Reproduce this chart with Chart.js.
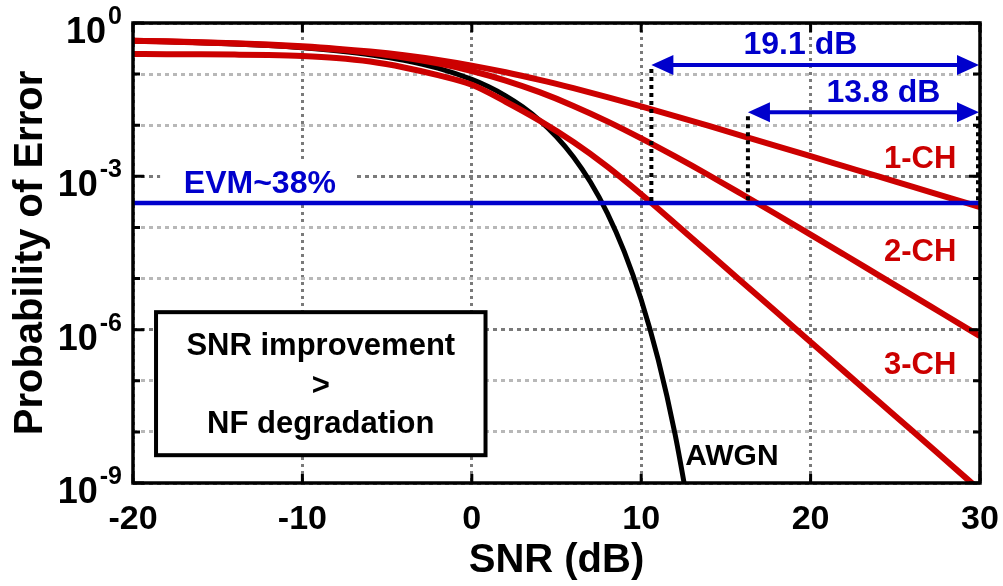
<!DOCTYPE html>
<html>
<head>
<meta charset="utf-8">
<script src="https://cdn.jsdelivr.net/npm/chart.js@4.4.1/dist/chart.umd.min.js"></script>
<style>
  html, body { margin: 0; padding: 0; background: #fff; }
  canvas { display: block; }
</style>
</head>
<body>
<canvas id="chart" width="1003" height="586"></canvas>
<script>
// SNR grid (dB) for the fading curves
const snr = [-20, -18, -16, -14, -12, -10, -8, -6, -4, -2, 0, 2, 4, 6, 8, 10,
             12, 14, 16, 18, 20, 22, 24, 26, 28, 30];

// probability of error
const ch1 = [0.450, 0.4376, 0.4217, 0.4022, 0.3782, 0.3492, 0.3151, 0.2760, 0.2332,
             0.1890, 0.1464, 0.1085, 0.0771, 0.0530, 0.0355, 0.0233, 0.0151, 0.00967,
             0.00615, 0.00391, 0.00248, 0.00157, 0.000994, 0.000627, 0.000396, 0.000250];
const ch2 = [0.447, 0.4337, 0.4168, 0.3959, 0.3702, 0.3390, 0.3017, 0.2588, 0.2113,
             0.1621, 0.1151, 0.0748, 0.0443, 0.0239, 0.0119, 0.00553, 0.00245, 0.00105,
             4.36e-4, 1.79e-4, 7.26e-5, 2.92e-5, 1.17e-5, 4.69e-6, 1.87e-6, 7.48e-7];
const ch3 = [0.247, 0.246, 0.244, 0.241, 0.236, 0.226, 0.207, 0.176, 0.135,
             0.0955, 0.0617, 0.0288, 0.0123, 0.00468, 0.00155, 4.47e-4, 1.20e-4, 3.16e-5,
             8.3e-6, 2.19e-6, 5.75e-7, 1.51e-7, 3.98e-8, 1.05e-8, 2.75e-9, 7.2e-10];

const awgnSnr = [-20, -18, -16, -14, -12, -10, -8, -6, -4, -2, 0, 1, 2, 3, 4, 5, 6,
                 7, 8, 9, 10, 11, 12, 13];
const awgn = [0.4438, 0.4294, 0.4113, 0.3889, 0.3612, 0.3274, 0.2867, 0.2392, 0.1861,
              0.1306, 0.0786, 0.0563, 0.0375, 0.0229, 0.0125, 0.00595, 0.00239,
              7.73e-4, 1.91e-4, 3.36e-5, 3.87e-6, 2.61e-7, 9.0e-9, 1.33e-10];

const evmLevel = 3e-4;          // EVM~38% limit
const xTicks = [-20, -10, 0, 10, 20, 30];
const yDecades = [0, -1, -2, -3, -4, -5, -6, -7, -8, -9];
const yLabelExp = [0, -3, -6, -9];

// SNR gaps between the curves at the EVM limit
const gapStart = [10.6, 16.3];
const gapEnd = [30, 30];
const gapLabels = ["19.1 dB", "13.8 dB"];

const FONT = "'Liberation Sans', Arial, Helvetica, sans-serif";
const RED = "#cc0000";
const BLUE = "#0000cc";

function pts(xs, ys) {
    return xs.map((x, i) => ({ x: x, y: ys[i] }));
}

// arrow with heads on both ends
function arrow(ctx, x1, x2, y) {
    const hl = 22, hw = 10;
    ctx.beginPath();
    ctx.moveTo(x1 + hl - 2, y);
    ctx.lineTo(x2 - hl + 2, y);
    ctx.stroke();
    ctx.beginPath();
    ctx.moveTo(x1, y);
    ctx.lineTo(x1 + hl, y - hw);
    ctx.lineTo(x1 + hl, y + hw);
    ctx.closePath();
    ctx.fill();
    ctx.beginPath();
    ctx.moveTo(x2, y);
    ctx.lineTo(x2 - hl, y - hw);
    ctx.lineTo(x2 - hl, y + hw);
    ctx.closePath();
    ctx.fill();
}

const decor = {
    id: "decor",
    beforeDatasetsDraw(chart) {
        const { ctx, scales: { x, y } } = chart;
        ctx.save();

        // white patch behind the EVM label
        ctx.fillStyle = "#fff";
        ctx.fillRect(x.getPixelForValue(-18.4), y.getPixelForValue(2.1e-3),
                     x.getPixelForValue(-7.0) - x.getPixelForValue(-18.4), 44);

        // text box
        const bx1 = x.getPixelForValue(-18.64), bx2 = x.getPixelForValue(0.81);
        const by1 = y.getPixelForValue(2.2e-6), by2 = y.getPixelForValue(3.5e-9);
        ctx.fillRect(bx1, by1, bx2 - bx1, by2 - by1);
        ctx.strokeStyle = "#000";
        ctx.lineWidth = 4;
        ctx.strokeRect(bx1, by1, bx2 - bx1, by2 - by1);

        ctx.fillStyle = "#000";
        ctx.font = "bold 31px " + FONT;
        ctx.textAlign = "center";
        ctx.textBaseline = "middle";
        const cx = (bx1 + bx2) / 2, cy = (by1 + by2) / 2;
        ctx.fillText("SNR improvement", cx, cy - 37);
        ctx.fillText(">", cx, cy + 3);
        ctx.fillText("NF degradation", cx, cy + 41);

        ctx.restore();
    },
    afterDraw(chart) {
        const { ctx, chartArea: a, scales: { x, y } } = chart;
        ctx.save();

        // dotted markers from the arrows down to the EVM line
        const yEvm = y.getPixelForValue(evmLevel);
        const arrowY = [y.getPixelForValue(0.15), y.getPixelForValue(0.018)];
        ctx.strokeStyle = "#000";
        ctx.lineWidth = 4;
        ctx.setLineDash([4, 4]);
        gapStart.forEach((s, i) => {
            const px = x.getPixelForValue(s);
            ctx.beginPath();
            ctx.moveTo(px, arrowY[i] + 4);
            ctx.lineTo(px, yEvm);
            ctx.stroke();
        });
        ctx.beginPath();
        ctx.moveTo(a.right - 2, arrowY[1] + 4);
        ctx.lineTo(a.right - 2, yEvm);
        ctx.stroke();
        ctx.setLineDash([]);

        // gap arrows
        ctx.strokeStyle = BLUE;
        ctx.fillStyle = BLUE;
        ctx.lineWidth = 4;
        gapStart.forEach((s, i) => {
            arrow(ctx, x.getPixelForValue(s), x.getPixelForValue(gapEnd[i]) - 1, arrowY[i]);
        });

        ctx.font = "bold 32px " + FONT;
        ctx.textAlign = "center";
        ctx.textBaseline = "middle";
        ctx.fillText(gapLabels[0], x.getPixelForValue(19.4), y.getPixelForValue(0.37));
        ctx.fillText(gapLabels[1], x.getPixelForValue(24.3), y.getPixelForValue(0.043));

        ctx.textAlign = "left";
        ctx.fillText("EVM~38%", x.getPixelForValue(-17.0), y.getPixelForValue(7.1e-4));

        // curve labels
        ctx.fillStyle = RED;
        ctx.font = "bold 31px " + FONT;
        ctx.textAlign = "right";
        ctx.fillText("1-CH", x.getPixelForValue(28.6), y.getPixelForValue(2.1e-3));
        ctx.fillText("2-CH", x.getPixelForValue(28.6), y.getPixelForValue(3.3e-5));
        ctx.fillText("3-CH", x.getPixelForValue(28.6), y.getPixelForValue(2.0e-7));
        ctx.fillStyle = "#000";
        ctx.font = "bold 30px " + FONT;
        ctx.textAlign = "left";
        ctx.fillText("AWGN", x.getPixelForValue(12.6), y.getPixelForValue(3.2e-9));

        // inward tick marks
        ctx.strokeStyle = "#000";
        ctx.lineWidth = 3;
        ctx.beginPath();
        yDecades.forEach(e => {
            const py = y.getPixelForValue(Math.pow(10, e));
            const len = yLabelExp.includes(e) ? 11 : 7;
            ctx.moveTo(a.left, py); ctx.lineTo(a.left + len, py);
            ctx.moveTo(a.right, py); ctx.lineTo(a.right - len, py);
        });
        xTicks.forEach(v => {
            const px = x.getPixelForValue(v);
            ctx.moveTo(px, a.top); ctx.lineTo(px, a.top + 9);
            ctx.moveTo(px, a.bottom); ctx.lineTo(px, a.bottom - 9);
        });
        ctx.stroke();

        // frame
        ctx.lineWidth = 3.5;
        ctx.strokeRect(a.left, a.top, a.right - a.left, a.bottom - a.top);

        // y tick labels 10^n
        ctx.fillStyle = "#000";
        ctx.textBaseline = "alphabetic";
        ctx.textAlign = "right";
        yLabelExp.forEach(e => {
            const py = y.getPixelForValue(Math.pow(10, e));
            const sup = String(e);
            ctx.font = "bold 25px " + FONT;
            ctx.fillText(sup, a.left - 11, py + 1);
            const w = ctx.measureText(sup).width;
            ctx.font = "bold 36px " + FONT;
            ctx.fillText("10", a.left - 13 - w, py + 20);
        });

        ctx.restore();
    }
};

new Chart(document.getElementById("chart"), {
    type: "line",
    data: {
        datasets: [
            { label: "EVM", data: [{ x: -20, y: evmLevel }, { x: 30, y: evmLevel }],
              borderColor: BLUE, borderWidth: 4.5, order: 0 },
            { label: "1-CH", data: pts(snr, ch1), borderColor: RED, borderWidth: 6, order: 1 },
            { label: "2-CH", data: pts(snr, ch2), borderColor: RED, borderWidth: 6, order: 1 },
            { label: "3-CH", data: pts(snr, ch3), borderColor: RED, borderWidth: 6, order: 1 },
            { label: "AWGN", data: pts(awgnSnr, awgn), borderColor: "#000", borderWidth: 5, order: 2 }
        ]
    },
    options: {
        responsive: false,
        animation: false,
        layout: { padding: { top: 23, right: 23, left: 0, bottom: 0 } },
        elements: {
            line: { cubicInterpolationMode: "monotone", borderCapStyle: "butt", fill: false },
            point: { radius: 0 }
        },
        plugins: { legend: { display: false }, tooltip: { enabled: false } },
        scales: {
            x: {
                type: "linear",
                min: -20,
                max: 30,
                afterBuildTicks: s => { s.ticks = xTicks.map(v => ({ value: v })); },
                afterFit: s => { s.height = 103; s.paddingLeft = 0; s.paddingRight = 0; },
                grid: { color: "#7a7a7a", lineWidth: 3, drawTicks: false },
                border: { display: false, dash: [3, 4] },
                ticks: {
                    color: "#000",
                    font: { family: FONT, size: 34, weight: "bold" },
                    padding: 16,
                    maxRotation: 0,
                    autoSkip: false
                },
                title: {
                    display: true,
                    text: "SNR (dB)",
                    color: "#000",
                    font: { family: FONT, size: 40, weight: "bold" },
                    padding: { top: 0, bottom: 1 }
                }
            },
            y: {
                type: "logarithmic",
                min: 1e-9,
                max: 1,
                afterBuildTicks: s => { s.ticks = yDecades.map(e => ({ value: Math.pow(10, e) })); },
                afterFit: s => { s.width = 133; },
                grid: {
                    color: c => (yLabelExp.includes(Math.round(Math.log10(c.tick.value))) ? "#7a7a7a" : "#b8b8b8"),
                    lineWidth: 3,
                    drawTicks: false
                },
                border: { display: false, dash: [4, 4] },
                ticks: { display: false },
                title: {
                    display: true,
                    text: "Probability of Error",
                    color: "#000",
                    font: { family: FONT, size: 40, weight: "bold" },
                    padding: { top: 7, bottom: 0 }
                }
            }
        }
    },
    plugins: [decor]
});
</script>
</body>
</html>
